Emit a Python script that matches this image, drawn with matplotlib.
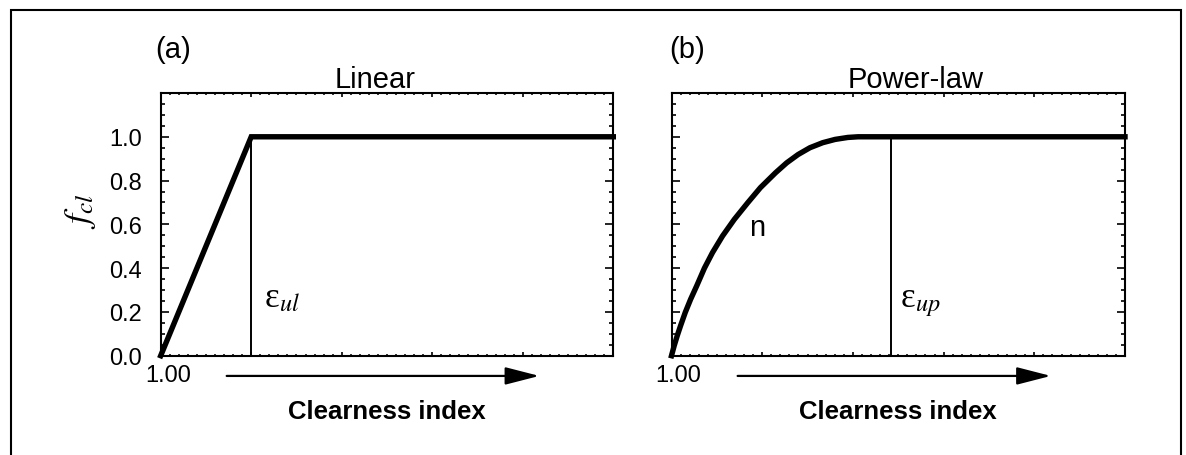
import numpy as np
import matplotlib
matplotlib.use("Agg")
import matplotlib.pyplot as plt
from matplotlib.patches import Rectangle
from matplotlib.ticker import MultipleLocator
import matplotlib.transforms as mtransforms

plt.rcParams['font.family'] = ['Liberation Sans', 'DejaVu Sans']
plt.rcParams['mathtext.fontset'] = 'stix'

# linear model: ramps from 0 to 1 then stays at 1
lin_x = [1.00, 1.10, 1.50]
lin_y = [0.0, 1.0, 1.0]
lin_eps = 1.10

# power-law model, points
pow_x = [1.000, 1.0030, 1.0063, 1.0100, 1.0152, 1.0211, 1.0278, 1.0363,
         1.0452, 1.0563, 1.0693, 1.0841, 1.0981, 1.1148, 1.1270, 1.1396,
         1.1526, 1.1667, 1.1804, 1.1944, 1.2056, 1.2415, 1.50]
pow_y = [0.0, 0.046, 0.091, 0.137, 0.198, 0.258, 0.319, 0.400,
         0.471, 0.547, 0.623, 0.699, 0.768, 0.836, 0.881, 0.919,
         0.950, 0.973, 0.988, 0.997, 1.0, 1.0, 1.0]
pow_eps = 1.2415

yticks = [0.0, 0.2, 0.4, 0.6, 0.8, 1.0, 1.2]
ytick_labels = ['0.0', '0.2', '0.4', '0.6', '0.8', '1.0', '']
xticks = [1.0, 1.1, 1.2, 1.3, 1.4, 1.5]
xtick_labels = ['1.00', '', '', '', '', '']

W, H = 1186, 456
fig = plt.figure(figsize=(W / 100, H / 100), dpi=100)


def px(x0, y0, x1, y1):
    return [x0 / W, 1 - y1 / H, (x1 - x0) / W, (y1 - y0) / H]


ax1 = fig.add_axes(px(160.7, 94, 613.3, 356.7))
ax2 = fig.add_axes(px(671.5, 94, 1125, 356.7))

for ax in (ax1, ax2):
    ax.set_xlim(1.0, 1.5)
    ax.set_ylim(0, 1.2)
    ax.set_xticks(xticks)
    ax.set_yticks(yticks)
    ax.xaxis.set_minor_locator(MultipleLocator(0.01))
    ax.yaxis.set_minor_locator(MultipleLocator(0.05))
    for s in ax.spines.values():
        s.set_linewidth(1.5)
    ax.tick_params(which='both', direction='in', top=True, right=True,
                   labelsize=17, color='k')
    ax.tick_params(axis='y', which='major', length=6, width=1.2, pad=13.5)
    ax.tick_params(axis='y', which='minor', length=3, width=1.2)
    ax.tick_params(axis='x', which='major', length=3, width=1.2, pad=6)
    ax.tick_params(axis='x', which='minor', length=1.6, width=1.1)
    ax.set_xticklabels(xtick_labels)
    # nudge the "1.00" label a little to the right
    off = mtransforms.ScaledTranslation(7 / 100, 0, fig.dpi_scale_trans)
    for lab in ax.get_xticklabels():
        lab.set_transform(lab.get_transform() + off)
    ax.annotate('', xy=(0.8365, -0.077), xytext=(0.1458, -0.077),
                xycoords='axes fraction', annotation_clip=False,
                arrowprops=dict(arrowstyle='-|>,head_length=1.05,head_width=0.27',
                                mutation_scale=20, lw=1.6, color='k',
                                shrinkA=0, shrinkB=0))

ax1.set_yticklabels(ytick_labels)
ax2.set_yticklabels([])

ax1.plot(lin_x, lin_y, color='k', lw=3.9, solid_joinstyle='miter', clip_on=False)
ax1.plot([lin_eps, lin_eps], [0, 1], color='k', lw=1.4)
ax2.plot(pow_x, pow_y, color='k', lw=3.9, solid_joinstyle='round', clip_on=False)
ax2.plot([pow_eps, pow_eps], [0, 1], color='k', lw=1.4)

# annotations inside the panels
ax1.text(lin_eps + 13 / 905.2, 0.225, 'ε$_{ul}$', fontsize=25,
         family=['Liberation Serif', 'DejaVu Serif'], va='baseline')
ax2.text(pow_eps + 9 / 907, 0.225, 'ε$_{up}$', fontsize=25,
         family=['Liberation Serif', 'DejaVu Serif'], va='baseline')
ax2.text(1.0939, 0.55, 'n', fontsize=21, ha='center', va='baseline')

# figure-level labels
fig.text(375 / W, 1 - 88 / H, 'Linear', fontsize=21, ha='center', va='baseline')
fig.text(916 / W, 1 - 88 / H, 'Power-law', fontsize=21, ha='center', va='baseline')
fig.text(155 / W, 1 - 58 / H, '(a)', fontsize=21, ha='left', va='baseline')
fig.text(669 / W, 1 - 58 / H, '(b)', fontsize=21, ha='left', va='baseline')
fig.text(387 / W, 1 - 419 / H, 'Clearness index', fontsize=18.5,
         fontweight='bold', ha='center', va='baseline')
fig.text(898 / W, 1 - 419 / H, 'Clearness index', fontsize=18.5,
         fontweight='bold', ha='center', va='baseline')
fig.text(80 / W, 1 - 211 / H, '$f_{cl}$', fontsize=26, rotation=90,
         ha='center', va='center')

fig.patches.append(Rectangle((10.7 / W, -0.05), 1170 / W, 1.05 - 10.7 / H,
                             transform=fig.transFigure, fill=False,
                             lw=1.5, edgecolor='k'))

fig.savefig('out.png', dpi=100)
